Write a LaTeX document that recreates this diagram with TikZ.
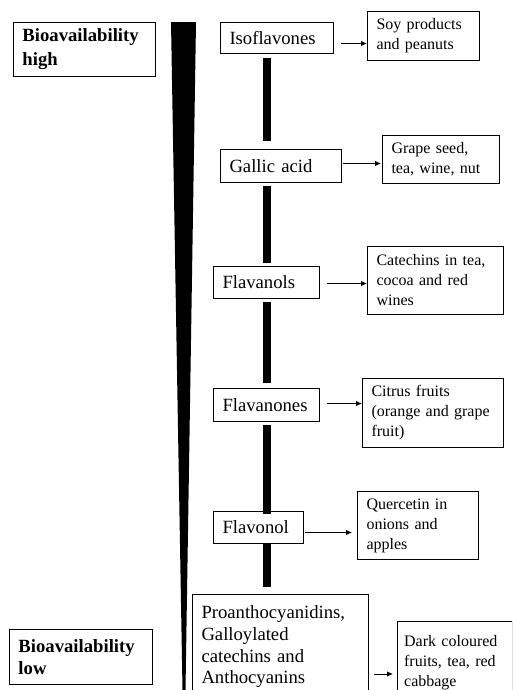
\documentclass[tikz,border=0pt]{standalone}
\usepackage{fontspec}
\setmainfont{Liberation Serif}
\usetikzlibrary{arrows.meta,calc}
\tikzset{
  card/.style={draw=black, line width=0.75pt, anchor=north west, align=left,
    inner xsep=6.75pt, inner ysep=0pt, font=\fontsize{14}{16.3}\selectfont},
  food/.style={card, font=\fontsize{12}{15}\selectfont},
  bio/.style={card, font=\fontsize{14}{18}\selectfont\bfseries},
  link/.style={-{Latex[length=4.5pt,width=4pt]}, line width=0.6pt},
  bar/.style={line width=6pt},
}

\begin{document}
\begin{tikzpicture}[x=0.75pt,y=-0.75pt]
  \useasboundingbox (0,0) rectangle (512,690);
  \clip (0,0) rectangle (512,690);
  \coordinate (spine) at (267,0);

  % bioavailability wedge
  \fill (171,22) -- (196,22) -- (185.5,690) -- (182.5,690) -- cycle;

  \node[bio, text width=93pt, minimum height=40.5pt] (high) at (13,22) {Bioavailability\\high};
  \node[bio, text width=93.75pt, minimum height=41.25pt, font=\fontsize{14}{17}\selectfont\bfseries] (low) at (9,629) {Bioavailability\\low};

  % classes
  \node[card, text width=71.25pt, minimum height=23.25pt] (iso) at (220,22) {Isoflavones};
  \node[card, text width=77.25pt, minimum height=24.75pt] (gal) at (220,149) {Gallic acid};
  \node[card, text width=66pt, minimum height=24pt] (flavanols) at (213,266) {Flavanols};
  \node[card, text width=66pt, minimum height=24.75pt] (flavanones) at (213,388) {Flavanones};
  \node[card, text width=54pt, minimum height=24pt] (flavonol) at (213,511) {Flavonol};
  \node[card, text width=118.5pt, inner ysep=8.4pt] (proanth) at (192,594)
    {Proanthocyanidins,\\Galloylated\\catechins and\\Anthocyanins};

  % sources
  \node[food, text width=70.5pt, minimum height=36.75pt] (soy) at (367,11) {Soy products\\and peanuts};
  \node[food, text width=74.25pt, minimum height=36pt] (grape) at (382,135) {Grape seed,\\tea, wine, nut};
  \node[food, text width=88.5pt, minimum height=51pt] (cat) at (367,246) {Catechins in tea,\\cocoa and red\\wines};
  \node[food, text width=92.25pt, minimum height=51.75pt] (citrus) at (362,378) {Citrus fruits\\(orange and grape\\fruit)};
  \node[food, text width=77.25pt, minimum height=51pt] (quer) at (357,491) {Quercetin in\\onions and\\apples};
  \node[food, text width=76pt, inner xsep=5pt, inner ysep=10.5pt] (dark) at (397,621)
    {Dark coloured\\fruits, tea, red\\cabbage};

  % spine bars
  \draw[bar] ([yshift=-3pt]iso.south -| spine) -- ([yshift=6pt]gal.north -| spine);
  \draw[bar] ([yshift=-2.25pt]gal.south -| spine) -- ([yshift=2.25pt]flavanols.north -| spine);
  \draw[bar] ([yshift=-2.25pt]flavanols.south -| spine) -- ([yshift=3.75pt]flavanones.north -| spine);
  \draw[bar] ([yshift=-2.25pt]flavanones.south -| spine) -- ([yshift=-2.5pt]flavonol.north -| spine);
  \draw[bar] (flavonol.south -| spine) -- ([yshift=5.25pt]proanth.north -| spine);

  % arrows
  \draw[link] ([shift={(5.25pt,-4.1pt)}]iso.east) -- ([yshift=-4.1pt]iso.east -| soy.west);
  \draw[link] ([shift={(0.75pt,1.9pt)}]gal.east) -- ([shift={(-0.75pt,1.9pt)}]gal.east -| grape.west);
  \draw[link] ([shift={(5.25pt,-0.75pt)}]flavanols.east) -- ([yshift=-0.75pt]flavanols.east -| cat.west);
  \draw[link] ([shift={(5.25pt,1.1pt)}]flavanones.east) -- ([yshift=1.1pt]flavanones.east -| citrus.west);
  \draw[link] ([shift={(0.75pt,-3.75pt)}]flavonol.east) -- ([shift={(-3.75pt,-3.75pt)}]flavonol.east -| quer.west);
  \draw[link] ([shift={(3.75pt,-60pt)}]proanth.north east) -- ([shift={(-3pt,-60pt)}]proanth.north east -| dark.west);
\end{tikzpicture}
\end{document}
